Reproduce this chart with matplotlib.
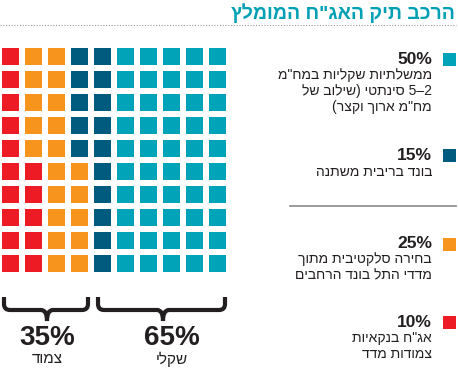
import re
import matplotlib
matplotlib.use('Agg')
import matplotlib.pyplot as plt
from matplotlib.patches import Rectangle, PathPatch
from matplotlib.path import Path

# data
title = 'הרכב תיק האג"ח המומלץ'
categories = ['שקלי', 'בריבית משתנה', 'סלקטיבי', 'בנקאיות']
waffle_counts = [50, 15, 20, 15]   # cells as drawn in the grid (right to left, top to bottom)
legend_pct = ['50%', '15%', '25%', '10%']
legend_text = [
    ['ממשלתיות שקליות במח"מ', '5–2 סינתטי (שילוב של', 'מח"מ ארוך וקצר)'],
    ['בונד בריבית משתנה'],
    ['בחירה סלקטיבית מתוך', 'מדדי התל בונד הרחבים'],
    ['אג"ח בנקאיות', 'צמודות מדד'],
]
colors = ['#00a3b7', '#005b7f', '#f7941d', '#ed1c24']
group_pct = ['65%', '35%']
group_label = ['שקלי', 'צמוד']


def vis(s):
    # matplotlib has no bidi: reverse chars, keep numbers LTR, mirror brackets
    r = s[::-1].translate(str.maketrans('()', ')('))
    return re.sub(r'[0-9][0-9–\-]*[0-9]', lambda m: m.group(0)[::-1], r)


plt.rcParams['font.family'] = ['Liberation Sans', 'DejaVu Sans']
fig = plt.figure(figsize=(4.58, 3.70), dpi=100)
ax = fig.add_axes([0, 0, 1, 1])
ax.set_xlim(0, 458)
ax.set_ylim(370, 0)
ax.axis('off')

# title
ax.text(455, 13, vis(title), ha='right', va='center', fontsize=14,
        fontweight='bold', color='#00a0b4')
ax.plot([0, 456], [25, 25], color='#999999', lw=0.8, ls=(0, (1, 1.5)))

# waffle grid: 10x10, filled column by column from the right
x0, y0, pitch, size = 2, 48, 23, 17
cells = []
for c, n in zip(colors, waffle_counts):
    cells += [c] * n
for i, c in enumerate(cells):
    col = 9 - i // 10
    row = i % 10
    ax.add_patch(Rectangle((x0 + col * pitch, y0 + row * pitch), size, size,
                           facecolor=c, edgecolor='none'))

# legend
pct_y = [59.5, 155.5, 244, 322.5]
gap = [15.8, 16.5, 15.5, 15.5]
for k in range(4):
    ax.add_patch(Rectangle((443, pct_y[k] - 6.5), 13, 13, facecolor=colors[k],
                           edgecolor='none'))
    ax.text(432, pct_y[k], legend_pct[k], ha='right', va='center',
            fontsize=12.5, fontweight='bold', color='#231f20')
    for j, line in enumerate(legend_text[k]):
        ax.text(432, pct_y[k] + gap[k] * (j + 1), vis(line), ha='right',
                va='center', fontsize=10, color='#231f20')
ax.plot([290, 456], [206, 206], color='#8a8a8a', lw=1.2)


# braces
def brace(xa, xb, xm, ya=297, yb=310, yc=321, r=6):
    verts = [(xa, ya), (xa, yb - r), (xa, yb), (xa + r, yb), (xm - r, yb),
             (xm, yb), (xm, yc), (xm, yb), (xm + r, yb), (xb - r, yb),
             (xb, yb), (xb, yb - r), (xb, ya)]
    codes = [Path.MOVETO, Path.LINETO, Path.CURVE3, Path.CURVE3, Path.LINETO,
             Path.CURVE3, Path.CURVE3, Path.CURVE3, Path.CURVE3, Path.LINETO,
             Path.CURVE3, Path.CURVE3, Path.LINETO]
    ax.add_patch(PathPatch(Path(verts, codes), facecolor='none',
                           edgecolor='#231f20', lw=3, capstyle='butt'))


brace(4, 88, 47)
brace(98, 225, 163)

group_x = [172, 47]
for k in range(2):
    ax.text(group_x[k], 338, group_pct[k], ha='center', va='center',
            fontsize=20, fontweight='bold', color='#231f20')
    ax.text(group_x[k], 359, vis(group_label[k]), ha='center', va='center',
            fontsize=11, color='#231f20')

fig.savefig('out.png', dpi=100)
